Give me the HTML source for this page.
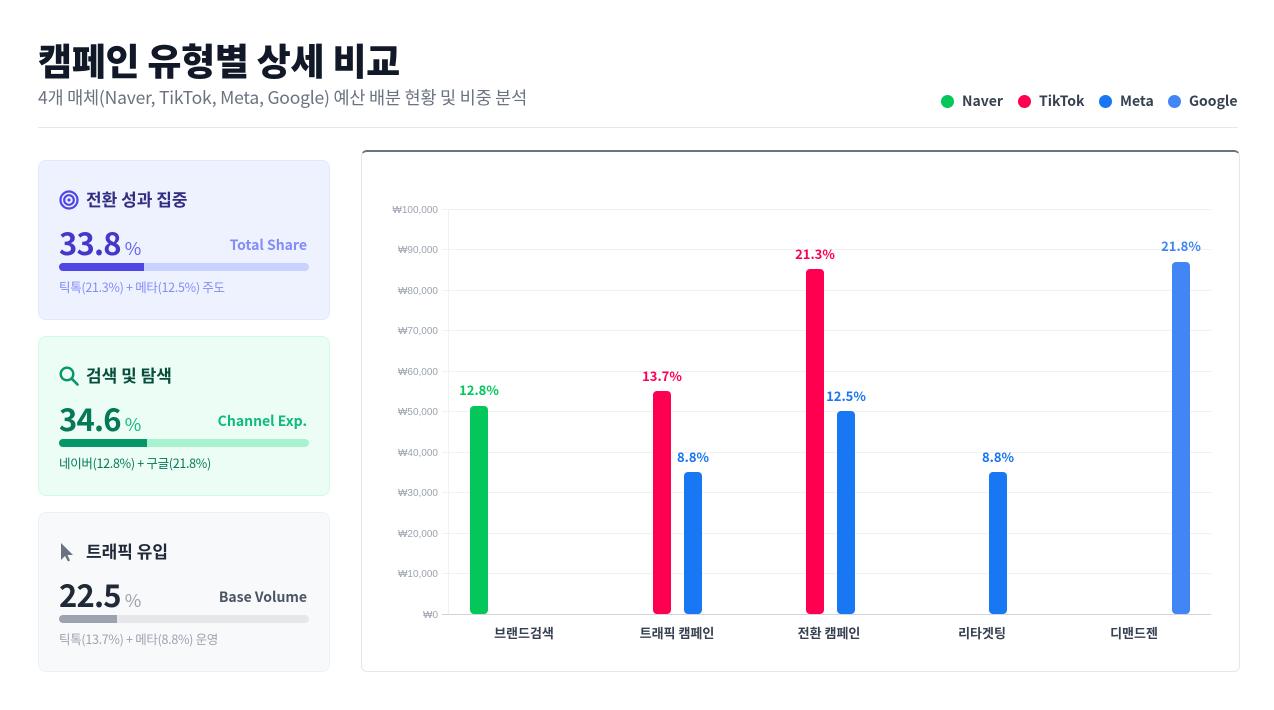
<!DOCTYPE html>
<html><head><meta charset="utf-8"><style>
*{margin:0;padding:0;box-sizing:border-box}
body{width:1274px;height:710px;background:#fff;font-family:"Liberation Sans","Noto Sans CJK KR",sans-serif;position:relative;overflow:hidden;color:#1f2937}
.abs{position:absolute}
h1{position:absolute;left:38px;top:32px;font-size:37px;font-weight:900;color:#111827;font-family:"Noto Sans CJK KR",sans-serif;letter-spacing:-0.3px}
.sub{left:38px;top:85px;font-size:17.5px;color:#6b7280;font-family:"Noto Sans CJK KR",sans-serif;letter-spacing:-0.2px}
.leg{top:91px;font-size:14px;font-weight:700;color:#374151;font-family:"Noto Sans CJK KR",sans-serif;display:flex;align-items:center}
.leg i{display:inline-block;width:13px;height:13px;border-radius:50%;margin-right:8px}
.card{position:absolute;left:38px;width:292px;height:160px;border-radius:8px;border:1.5px solid}
.card .t{position:absolute;left:47px;top:25px;font-size:17px;font-weight:700;font-family:"Noto Sans CJK KR",sans-serif}
.card .n{position:absolute;left:20px;top:58px;font-size:31px;font-weight:700;font-family:"Noto Sans CJK KR",sans-serif;letter-spacing:-0.8px}
.card .n span{font-size:18px;font-weight:400;margin-left:4px}
.card .r{position:absolute;right:22px;top:74px;font-size:14px;font-weight:700;font-family:"Noto Sans CJK KR",sans-serif}
.card .bar{position:absolute;left:20px;top:102px;width:250px;height:8px;border-radius:4px;overflow:hidden}
.card .bar div{height:100%}
.card .f{position:absolute;left:20px;top:116px;font-size:12.5px;font-family:"Noto Sans CJK KR",sans-serif;letter-spacing:-0.3px}
.card svg{position:absolute;left:20px;top:29px}
</style></head><body>
<h1>캠페인 유형별 상세 비교</h1>
<div class="abs sub">4개 매체(Naver, TikTok, Meta, Google) 예산 배분 현황 및 비중 분석</div>
<div class="abs leg" style="left:941px"><i style="background:#03c75a"></i>Naver</div>
<div class="abs leg" style="left:1018px"><i style="background:#ff0050"></i>TikTok</div>
<div class="abs leg" style="left:1099px"><i style="background:#1877f2"></i>Meta</div>
<div class="abs leg" style="left:1168px"><i style="background:#4285f4"></i>Google</div>
<div class="abs" style="left:38px;top:127px;width:1200px;height:1px;background:#e5e7eb"></div>

<div class="card" style="top:160px;background:#eef2ff;border-color:#e0e7ff">
<svg width="20" height="20" viewBox="0 0 20 20"><circle cx="10" cy="10" r="8.5" fill="none" stroke="#4f46e5" stroke-width="2.2"/><circle cx="10" cy="10" r="4.8" fill="none" stroke="#4f46e5" stroke-width="2.2"/><circle cx="10" cy="10" r="1.6" fill="#4f46e5"/></svg>
<div class="t" style="color:#312e81">전환 성과 집중</div>
<div class="n" style="color:#4338ca">33.8<span style="color:#6366f1">%</span></div>
<div class="r" style="color:#818cf8">Total Share</div>
<div class="bar" style="background:#c7d2fe"><div style="width:34%;background:#4f46e5"></div></div>
<div class="f" style="color:#818cf8">틱톡(21.3%) + 메타(12.5%) 주도</div>
</div>

<div class="card" style="top:336px;background:#ecfdf5;border-color:#d1fae5">
<svg width="20" height="20" viewBox="0 0 20 20"><circle cx="8" cy="8" r="6.3" fill="none" stroke="#059669" stroke-width="2.4"/><line x1="12.6" y1="12.6" x2="18.5" y2="18.5" stroke="#059669" stroke-width="2.6" stroke-linecap="round"/></svg>
<div class="t" style="color:#064e3b">검색 및 탐색</div>
<div class="n" style="color:#047857">34.6<span style="color:#10b981">%</span></div>
<div class="r" style="color:#10b981">Channel Exp.</div>
<div class="bar" style="background:#a7f3d0"><div style="width:35%;background:#059669"></div></div>
<div class="f" style="color:#047857">네이버(12.8%) + 구글(21.8%)</div>
</div>

<div class="card" style="top:512px;background:#f8f9fb;border-color:#eef0f3">
<svg width="20" height="20" viewBox="0 0 20 20"><path d="M2 1 L2 18 L6 14 L9 19.5 L11 18.5 L8.5 13 L14 13 Z" fill="#6b7280"/></svg>
<div class="t" style="color:#1f2937">트래픽 유입</div>
<div class="n" style="color:#1f2937">22.5<span style="color:#9ca3af">%</span></div>
<div class="r" style="color:#4b5563">Base Volume</div>
<div class="bar" style="background:#e5e7eb"><div style="width:23%;background:#9ca3af"></div></div>
<div class="f" style="color:#9ca3af">틱톡(13.7%) + 메타(8.8%) 운영</div>
</div>

<div class="abs" style="left:361px;top:150px;width:879px;height:522px;border:1px solid #e5e7eb;border-top:2px solid #6b7280;border-radius:6px"></div>
<svg class="abs" style="left:0;top:0" width="1274" height="710">
<g font-family="Liberation Sans,sans-serif" font-size="10" fill="#9ca3af" text-anchor="end">
<g stroke="#f0f1f3" stroke-width="1">
<line x1="442" y1="209.5" x2="1211" y2="209.5"/><line x1="442" y1="249.5" x2="1211" y2="249.5"/><line x1="442" y1="290.5" x2="1211" y2="290.5"/><line x1="442" y1="330.5" x2="1211" y2="330.5"/><line x1="442" y1="371.5" x2="1211" y2="371.5"/><line x1="442" y1="411.5" x2="1211" y2="411.5"/><line x1="442" y1="452.5" x2="1211" y2="452.5"/><line x1="442" y1="492.5" x2="1211" y2="492.5"/><line x1="442" y1="533.5" x2="1211" y2="533.5"/><line x1="442" y1="573.5" x2="1211" y2="573.5"/>
<line x1="448.5" y1="209" x2="448.5" y2="614"/>
</g>
<line x1="442" y1="614.5" x2="1211" y2="614.5" stroke="#d1d5db"/>
<text x="438" y="213">₩100,000</text><text x="438" y="253">₩90,000</text><text x="438" y="294">₩80,000</text><text x="438" y="334">₩70,000</text><text x="438" y="375">₩60,000</text><text x="438" y="415">₩50,000</text><text x="438" y="456">₩40,000</text><text x="438" y="496">₩30,000</text><text x="438" y="537">₩20,000</text><text x="438" y="577">₩10,000</text><text x="438" y="618">₩0</text>
</g>
<g>
<rect x="470" y="406" width="18" height="208" rx="4" fill="#03c75a"/>
<rect x="653" y="391" width="18" height="223" rx="4" fill="#ff0050"/>
<rect x="684" y="472" width="18" height="142" rx="4" fill="#1877f2"/>
<rect x="806" y="269" width="18" height="345" rx="4" fill="#ff0050"/>
<rect x="837" y="411" width="18" height="203" rx="4" fill="#1877f2"/>
<rect x="989" y="472" width="18" height="142" rx="4" fill="#1877f2"/>
<rect x="1172" y="262" width="18" height="352" rx="4" fill="#4285f4"/>
</g>
<g font-family="Noto Sans CJK KR,sans-serif" font-size="13" font-weight="700" text-anchor="middle">
<text x="479" y="395" fill="#03c75a">12.8%</text>
<text x="662" y="381" fill="#ff0050">13.7%</text>
<text x="693" y="462" fill="#1877f2">8.8%</text>
<text x="815" y="259" fill="#ff0050">21.3%</text>
<text x="846" y="401" fill="#1877f2">12.5%</text>
<text x="998" y="462" fill="#1877f2">8.8%</text>
<text x="1181" y="251" fill="#4285f4">21.8%</text>
</g>
<g font-family="Noto Sans CJK KR,sans-serif" font-size="13" font-weight="700" fill="#374151" text-anchor="middle">
<text x="524" y="638">브랜드검색</text><text x="677" y="638">트래픽 캠페인</text><text x="829" y="638">전환 캠페인</text><text x="982" y="638">리타겟팅</text><text x="1134" y="638">디맨드젠</text>
</g>
</svg>
</body></html>
